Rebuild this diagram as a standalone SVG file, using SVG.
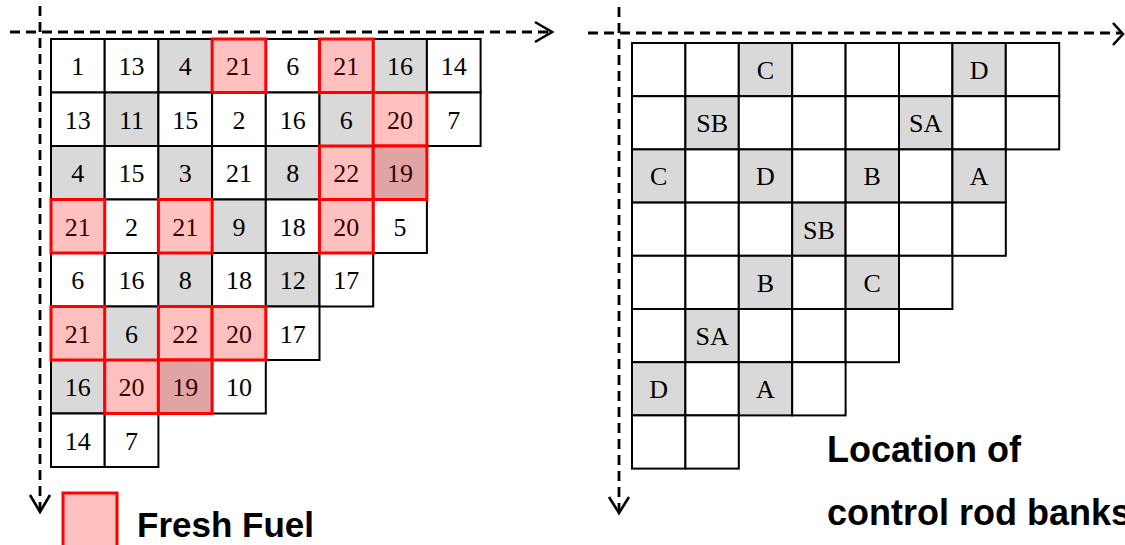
<svg xmlns="http://www.w3.org/2000/svg" width="1125" height="545" viewBox="0 0 1125 545">
<style>
.bg{fill:#ffffff}
.w{fill:#ffffff;stroke:#000;stroke-width:2}
.g{fill:#d9d9d9;stroke:#000;stroke-width:2}
.r{fill:#ffc0c0;stroke:#ff0000;stroke-width:3}
.d{fill:#e0a4a4;stroke:#ff0000;stroke-width:3}
.t{font-family:"Liberation Serif","Times New Roman",serif;font-size:26px;fill:#000;text-anchor:middle}
.tr{fill:#3a0000}
.lab{font-family:"Liberation Sans",Arial,sans-serif;font-weight:bold;fill:#000}
.ax{fill:none;stroke:#000;stroke-width:2.8;stroke-dasharray:10 6}
.ah{fill:none;stroke:#000;stroke-width:2.6}
</style>
<rect class="bg" x="0" y="0" width="1125" height="545"/>
<g id="connectors">
<line class="ax" x1="10" y1="32" x2="550" y2="32"/>
<polyline class="ah" points="535,22 552,32 535,42"/>
<line class="ax" x1="40" y1="6" x2="40" y2="510"/>
<polyline class="ah" points="30,495 40,512 50,495"/>
<line class="ax" x1="588" y1="33" x2="1121" y2="33"/>
<polyline class="ah" points="1113,23 1123,34 1113,45"/>
<line class="ax" x1="619" y1="7" x2="619" y2="511"/>
<polyline class="ah" points="609,497 619,513 629,497"/>
</g>
<g id="fuel-grid">
<g id="L00" transform="translate(51,39)"><rect class="w" width="53.7" height="53.5"/><text class="t" x="26.85" y="36">1</text></g>
<g id="L01" transform="translate(104.7,39)"><rect class="w" width="53.7" height="53.5"/><text class="t" x="26.85" y="36">13</text></g>
<g id="L02" transform="translate(158.4,39)"><rect class="g" width="53.7" height="53.5"/><text class="t" x="26.85" y="36">4</text></g>
<g id="L04" transform="translate(265.8,39)"><rect class="w" width="53.7" height="53.5"/><text class="t" x="26.85" y="36">6</text></g>
<g id="L06" transform="translate(373.2,39)"><rect class="g" width="53.7" height="53.5"/><text class="t" x="26.85" y="36">16</text></g>
<g id="L07" transform="translate(426.9,39)"><rect class="w" width="53.7" height="53.5"/><text class="t" x="26.85" y="36">14</text></g>
<g id="L10" transform="translate(51,92.5)"><rect class="w" width="53.7" height="53.5"/><text class="t" x="26.85" y="36">13</text></g>
<g id="L11" transform="translate(104.7,92.5)"><rect class="g" width="53.7" height="53.5"/><text class="t" x="26.85" y="36">11</text></g>
<g id="L12" transform="translate(158.4,92.5)"><rect class="w" width="53.7" height="53.5"/><text class="t" x="26.85" y="36">15</text></g>
<g id="L13" transform="translate(212.1,92.5)"><rect class="w" width="53.7" height="53.5"/><text class="t" x="26.85" y="36">2</text></g>
<g id="L14" transform="translate(265.8,92.5)"><rect class="w" width="53.7" height="53.5"/><text class="t" x="26.85" y="36">16</text></g>
<g id="L15" transform="translate(319.5,92.5)"><rect class="g" width="53.7" height="53.5"/><text class="t" x="26.85" y="36">6</text></g>
<g id="L17" transform="translate(426.9,92.5)"><rect class="w" width="53.7" height="53.5"/><text class="t" x="26.85" y="36">7</text></g>
<g id="L20" transform="translate(51,146)"><rect class="g" width="53.7" height="53.5"/><text class="t" x="26.85" y="36">4</text></g>
<g id="L21" transform="translate(104.7,146)"><rect class="w" width="53.7" height="53.5"/><text class="t" x="26.85" y="36">15</text></g>
<g id="L22" transform="translate(158.4,146)"><rect class="g" width="53.7" height="53.5"/><text class="t" x="26.85" y="36">3</text></g>
<g id="L23" transform="translate(212.1,146)"><rect class="w" width="53.7" height="53.5"/><text class="t" x="26.85" y="36">21</text></g>
<g id="L24" transform="translate(265.8,146)"><rect class="g" width="53.7" height="53.5"/><text class="t" x="26.85" y="36">8</text></g>
<g id="L31" transform="translate(104.7,199.5)"><rect class="w" width="53.7" height="53.5"/><text class="t" x="26.85" y="36">2</text></g>
<g id="L33" transform="translate(212.1,199.5)"><rect class="g" width="53.7" height="53.5"/><text class="t" x="26.85" y="36">9</text></g>
<g id="L34" transform="translate(265.8,199.5)"><rect class="w" width="53.7" height="53.5"/><text class="t" x="26.85" y="36">18</text></g>
<g id="L36" transform="translate(373.2,199.5)"><rect class="w" width="53.7" height="53.5"/><text class="t" x="26.85" y="36">5</text></g>
<g id="L40" transform="translate(51,253)"><rect class="w" width="53.7" height="53.5"/><text class="t" x="26.85" y="36">6</text></g>
<g id="L41" transform="translate(104.7,253)"><rect class="w" width="53.7" height="53.5"/><text class="t" x="26.85" y="36">16</text></g>
<g id="L42" transform="translate(158.4,253)"><rect class="g" width="53.7" height="53.5"/><text class="t" x="26.85" y="36">8</text></g>
<g id="L43" transform="translate(212.1,253)"><rect class="w" width="53.7" height="53.5"/><text class="t" x="26.85" y="36">18</text></g>
<g id="L44" transform="translate(265.8,253)"><rect class="g" width="53.7" height="53.5"/><text class="t" x="26.85" y="36">12</text></g>
<g id="L45" transform="translate(319.5,253)"><rect class="w" width="53.7" height="53.5"/><text class="t" x="26.85" y="36">17</text></g>
<g id="L51" transform="translate(104.7,306.5)"><rect class="g" width="53.7" height="53.5"/><text class="t" x="26.85" y="36">6</text></g>
<g id="L54" transform="translate(265.8,306.5)"><rect class="w" width="53.7" height="53.5"/><text class="t" x="26.85" y="36">17</text></g>
<g id="L60" transform="translate(51,360)"><rect class="g" width="53.7" height="53.5"/><text class="t" x="26.85" y="36">16</text></g>
<g id="L63" transform="translate(212.1,360)"><rect class="w" width="53.7" height="53.5"/><text class="t" x="26.85" y="36">10</text></g>
<g id="L70" transform="translate(51,413.5)"><rect class="w" width="53.7" height="53.5"/><text class="t" x="26.85" y="36">14</text></g>
<g id="L71" transform="translate(104.7,413.5)"><rect class="w" width="53.7" height="53.5"/><text class="t" x="26.85" y="36">7</text></g>
<g id="L03" transform="translate(212.1,39)"><rect class="r" width="53.7" height="53.5"/><text class="t tr" x="26.85" y="36">21</text></g>
<g id="L05" transform="translate(319.5,39)"><rect class="r" width="53.7" height="53.5"/><text class="t tr" x="26.85" y="36">21</text></g>
<g id="L16" transform="translate(373.2,92.5)"><rect class="r" width="53.7" height="53.5"/><text class="t tr" x="26.85" y="36">20</text></g>
<g id="L25" transform="translate(319.5,146)"><rect class="r" width="53.7" height="53.5"/><text class="t tr" x="26.85" y="36">22</text></g>
<g id="L26" transform="translate(373.2,146)"><rect class="d" width="53.7" height="53.5"/><text class="t tr" x="26.85" y="36">19</text></g>
<g id="L30" transform="translate(51,199.5)"><rect class="r" width="53.7" height="53.5"/><text class="t tr" x="26.85" y="36">21</text></g>
<g id="L32" transform="translate(158.4,199.5)"><rect class="r" width="53.7" height="53.5"/><text class="t tr" x="26.85" y="36">21</text></g>
<g id="L35" transform="translate(319.5,199.5)"><rect class="r" width="53.7" height="53.5"/><text class="t tr" x="26.85" y="36">20</text></g>
<g id="L50" transform="translate(51,306.5)"><rect class="r" width="53.7" height="53.5"/><text class="t tr" x="26.85" y="36">21</text></g>
<g id="L52" transform="translate(158.4,306.5)"><rect class="r" width="53.7" height="53.5"/><text class="t tr" x="26.85" y="36">22</text></g>
<g id="L53" transform="translate(212.1,306.5)"><rect class="r" width="53.7" height="53.5"/><text class="t tr" x="26.85" y="36">20</text></g>
<g id="L61" transform="translate(104.7,360)"><rect class="r" width="53.7" height="53.5"/><text class="t tr" x="26.85" y="36">20</text></g>
<g id="L62" transform="translate(158.4,360)"><rect class="d" width="53.7" height="53.5"/><text class="t tr" x="26.85" y="36">19</text></g>
</g>
<g id="rod-grid">
<g id="R00" transform="translate(632,43)"><rect class="w" width="53.4" height="53.2"/></g>
<g id="R01" transform="translate(685.4,43)"><rect class="w" width="53.4" height="53.2"/></g>
<g id="R02" transform="translate(738.8,43)"><rect class="g" width="53.4" height="53.2"/><text class="t" x="26.7" y="36">C</text></g>
<g id="R03" transform="translate(792.2,43)"><rect class="w" width="53.4" height="53.2"/></g>
<g id="R04" transform="translate(845.6,43)"><rect class="w" width="53.4" height="53.2"/></g>
<g id="R05" transform="translate(899,43)"><rect class="w" width="53.4" height="53.2"/></g>
<g id="R06" transform="translate(952.4,43)"><rect class="g" width="53.4" height="53.2"/><text class="t" x="26.7" y="36">D</text></g>
<g id="R07" transform="translate(1005.8,43)"><rect class="w" width="53.4" height="53.2"/></g>
<g id="R10" transform="translate(632,96.2)"><rect class="w" width="53.4" height="53.2"/></g>
<g id="R11" transform="translate(685.4,96.2)"><rect class="g" width="53.4" height="53.2"/><text class="t" x="26.7" y="36">SB</text></g>
<g id="R12" transform="translate(738.8,96.2)"><rect class="w" width="53.4" height="53.2"/></g>
<g id="R13" transform="translate(792.2,96.2)"><rect class="w" width="53.4" height="53.2"/></g>
<g id="R14" transform="translate(845.6,96.2)"><rect class="w" width="53.4" height="53.2"/></g>
<g id="R15" transform="translate(899,96.2)"><rect class="g" width="53.4" height="53.2"/><text class="t" x="26.7" y="36">SA</text></g>
<g id="R16" transform="translate(952.4,96.2)"><rect class="w" width="53.4" height="53.2"/></g>
<g id="R17" transform="translate(1005.8,96.2)"><rect class="w" width="53.4" height="53.2"/></g>
<g id="R20" transform="translate(632,149.4)"><rect class="g" width="53.4" height="53.2"/><text class="t" x="26.7" y="36">C</text></g>
<g id="R21" transform="translate(685.4,149.4)"><rect class="w" width="53.4" height="53.2"/></g>
<g id="R22" transform="translate(738.8,149.4)"><rect class="g" width="53.4" height="53.2"/><text class="t" x="26.7" y="36">D</text></g>
<g id="R23" transform="translate(792.2,149.4)"><rect class="w" width="53.4" height="53.2"/></g>
<g id="R24" transform="translate(845.6,149.4)"><rect class="g" width="53.4" height="53.2"/><text class="t" x="26.7" y="36">B</text></g>
<g id="R25" transform="translate(899,149.4)"><rect class="w" width="53.4" height="53.2"/></g>
<g id="R26" transform="translate(952.4,149.4)"><rect class="g" width="53.4" height="53.2"/><text class="t" x="26.7" y="36">A</text></g>
<g id="R30" transform="translate(632,202.6)"><rect class="w" width="53.4" height="53.2"/></g>
<g id="R31" transform="translate(685.4,202.6)"><rect class="w" width="53.4" height="53.2"/></g>
<g id="R32" transform="translate(738.8,202.6)"><rect class="w" width="53.4" height="53.2"/></g>
<g id="R33" transform="translate(792.2,202.6)"><rect class="g" width="53.4" height="53.2"/><text class="t" x="26.7" y="36">SB</text></g>
<g id="R34" transform="translate(845.6,202.6)"><rect class="w" width="53.4" height="53.2"/></g>
<g id="R35" transform="translate(899,202.6)"><rect class="w" width="53.4" height="53.2"/></g>
<g id="R36" transform="translate(952.4,202.6)"><rect class="w" width="53.4" height="53.2"/></g>
<g id="R40" transform="translate(632,255.8)"><rect class="w" width="53.4" height="53.2"/></g>
<g id="R41" transform="translate(685.4,255.8)"><rect class="w" width="53.4" height="53.2"/></g>
<g id="R42" transform="translate(738.8,255.8)"><rect class="g" width="53.4" height="53.2"/><text class="t" x="26.7" y="36">B</text></g>
<g id="R43" transform="translate(792.2,255.8)"><rect class="w" width="53.4" height="53.2"/></g>
<g id="R44" transform="translate(845.6,255.8)"><rect class="g" width="53.4" height="53.2"/><text class="t" x="26.7" y="36">C</text></g>
<g id="R45" transform="translate(899,255.8)"><rect class="w" width="53.4" height="53.2"/></g>
<g id="R50" transform="translate(632,309)"><rect class="w" width="53.4" height="53.2"/></g>
<g id="R51" transform="translate(685.4,309)"><rect class="g" width="53.4" height="53.2"/><text class="t" x="26.7" y="36">SA</text></g>
<g id="R52" transform="translate(738.8,309)"><rect class="w" width="53.4" height="53.2"/></g>
<g id="R53" transform="translate(792.2,309)"><rect class="w" width="53.4" height="53.2"/></g>
<g id="R54" transform="translate(845.6,309)"><rect class="w" width="53.4" height="53.2"/></g>
<g id="R60" transform="translate(632,362.2)"><rect class="g" width="53.4" height="53.2"/><text class="t" x="26.7" y="36">D</text></g>
<g id="R61" transform="translate(685.4,362.2)"><rect class="w" width="53.4" height="53.2"/></g>
<g id="R62" transform="translate(738.8,362.2)"><rect class="g" width="53.4" height="53.2"/><text class="t" x="26.7" y="36">A</text></g>
<g id="R63" transform="translate(792.2,362.2)"><rect class="w" width="53.4" height="53.2"/></g>
<g id="R70" transform="translate(632,415.4)"><rect class="w" width="53.4" height="53.2"/></g>
<g id="R71" transform="translate(685.4,415.4)"><rect class="w" width="53.4" height="53.2"/></g>
</g>
<g id="legend">
<rect class="r" x="63" y="493" width="54" height="60"/>
<text class="lab" x="137" y="537" font-size="35">Fresh Fuel</text>
</g>
<g id="caption">
<text class="lab" x="827" y="461.5" font-size="36">Location of</text>
<text class="lab" x="827" y="525" font-size="36">control rod banks</text>
</g>
</svg>
